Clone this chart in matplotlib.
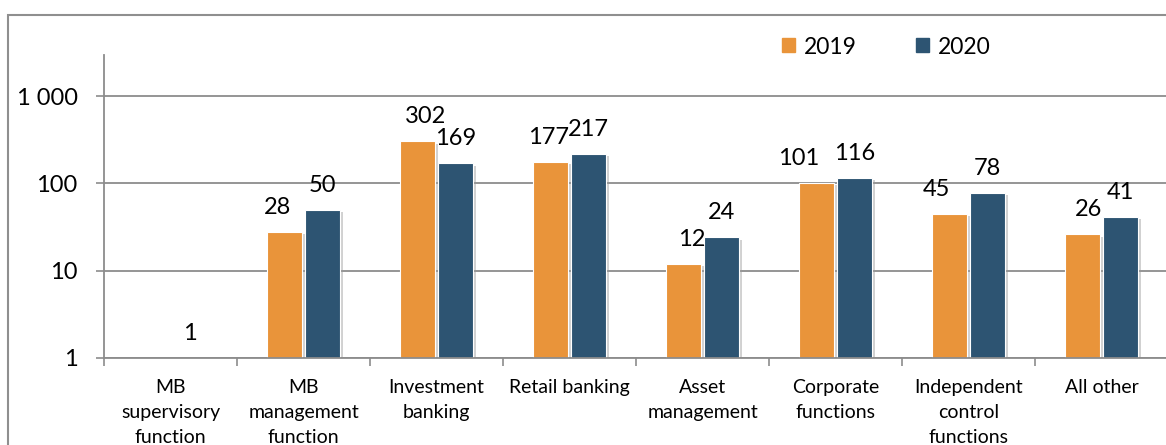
import matplotlib.pyplot as plt
import matplotlib.patheffects as pe
from matplotlib.patches import Patch, Rectangle
from matplotlib.ticker import FixedLocator, NullLocator
import numpy as np

plt.rcParams['font.family'] = ['Lato', 'DejaVu Sans']

categories = ['MB\nsupervisory\nfunction', 'MB\nmanagement\nfunction', 'Investment\nbanking',
              'Retail banking', 'Asset\nmanagement', 'Corporate\nfunctions',
              'Independent\ncontrol\nfunctions', 'All other']
v2019 = [np.nan, 28, 302, 177, 12, 101, 45, 26]
v2020 = [1, 50, 169, 217, 24, 116, 78, 41]
ytick_vals = [1, 10, 100, 1000]
ytick_labels = ['1', '10', '100', '1 000']

c2019 = '#E9943A'
c2020 = '#2D5472'
grey = '#8c8c8c'

# label nudges in pixels (Excel moves some labels sideways to avoid overlap)
nudge2019 = [0, -7, 8, -2, 8, -18, -13, 6]

fig = plt.figure(figsize=(11.66, 4.45), dpi=100)
ax = fig.add_axes([104/1166, 1-358/445, 1064/1166, (358-55)/445])

x = np.arange(len(categories))
w = 0.27
off = 0.143
shadow = [pe.SimplePatchShadow(offset=(1.5, -1.5), shadow_rgbFace='#999999', alpha=0.45), pe.Normal()]
b1 = ax.bar(x - off, v2019, w, color=c2019, edgecolor='white', lw=0.8, zorder=3, log=True)
b2 = ax.bar(x + off, v2020, w, color=c2020, edgecolor='white', lw=0.8, zorder=3, log=True)
for b in list(b1) + list(b2):
    b.set_path_effects(shadow)

ax.set_yscale('log')
ax.set_ylim(1, 10**3.47)
ax.set_xlim(-0.5, len(categories) - 0.5)

for i, v in enumerate(v2019):
    if not np.isnan(v):
        ax.annotate(str(v), (x[i] - off, v), xytext=(nudge2019[i], 14), textcoords='offset pixels',
                    ha='center', va='bottom', fontsize=17)
for i, v in enumerate(v2020):
    ax.annotate(str(v), (x[i] + off, v), xytext=(0, 14), textcoords='offset pixels',
                ha='center', va='bottom', fontsize=17)

ax.yaxis.set_major_locator(FixedLocator(ytick_vals))
ax.yaxis.set_minor_locator(NullLocator())
ax.set_yticklabels(ytick_labels, fontsize=17)
ax.tick_params(axis='y', length=6, width=1.2, color=grey, pad=13)
ax.grid(axis='y', color=grey, lw=1.3, zorder=0)

ax.set_xticks(x)
ax.set_xticklabels(categories, fontsize=14, linespacing=1.58, va='top')
ax.tick_params(axis='x', which='major', length=0, pad=15)
ax.set_xticks(np.arange(len(categories) + 1) - 0.5, minor=True)
ax.tick_params(axis='x', which='minor', length=6, width=1.2, color=grey)

for s in ['top', 'right']:
    ax.spines[s].set_visible(False)
for s in ['left', 'bottom']:
    ax.spines[s].set_color(grey)
    ax.spines[s].set_linewidth(1.3)
ax.spines['bottom'].set_zorder(4)

handles = [Patch(color=c2019, label='2019'), Patch(color=c2020, label='2020')]
fig.legend(handles=handles, loc='center left', bbox_to_anchor=(782/1166, 1-47/445),
           bbox_transform=fig.transFigure, ncol=2, frameon=False, fontsize=16.5,
           handlelength=0.55, handleheight=0.55, handletextpad=0.4, columnspacing=2.6,
           borderpad=0, borderaxespad=0)

frame = Rectangle((8/1166, -0.2), 1.2, 1.2 - 15/445, transform=fig.transFigure,
                  fill=False, edgecolor='#8f8f8f', lw=1.5, clip_on=False)
fig.add_artist(frame)

fig.savefig('out.png', dpi=100)
